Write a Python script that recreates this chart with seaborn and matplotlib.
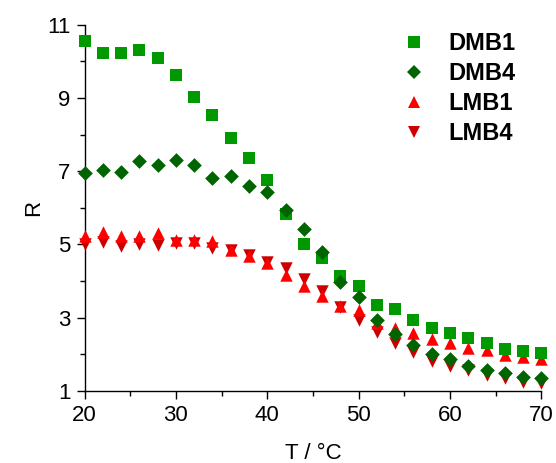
import matplotlib
matplotlib.use("Agg")
import matplotlib.pyplot as plt
from matplotlib.lines import Line2D
from matplotlib.ticker import MultipleLocator
import seaborn as sns
import pandas as pd

T = [20, 22, 24, 26, 28, 30, 32, 34, 36, 38, 40, 42, 44, 46, 48, 50,
     52, 54, 56, 58, 60, 62, 64, 66, 68, 70]
DMB1 = [10.55, 10.23, 10.23, 10.31, 10.09, 9.64, 9.03, 8.54, 7.91, 7.35, 6.77, 5.84, 5.02,
        4.64, 4.13, 3.88, 3.36, 3.25, 2.93, 2.71, 2.57, 2.44, 2.30, 2.16, 2.08, 2.05]
DMB4 = [6.96, 7.03, 6.98, 7.28, 7.17, 7.31, 7.18, 6.81, 6.88, 6.60, 6.42, 5.94, 5.41,
        4.80, 3.98, 3.57, 2.94, 2.55, 2.26, 2.00, 1.88, 1.69, 1.56, 1.49, 1.39, 1.35]
LMB1 = [5.23, 5.35, 5.24, 5.24, 5.31, 5.13, 5.12, 5.09, 4.84, 4.68, 4.49, 4.18, 3.88,
        3.59, 3.33, 3.22, 2.85, 2.71, 2.58, 2.42, 2.31, 2.17, 2.11, 1.97, 1.92, 1.88]
LMB4 = [5.02, 5.06, 4.97, 5.00, 4.98, 5.05, 5.04, 4.91, 4.86, 4.70, 4.53, 4.36, 4.06,
        3.74, 3.30, 2.95, 2.61, 2.32, 2.07, 1.82, 1.68, 1.56, 1.43, 1.36, 1.25, 1.23]

series_names = ["DMB1", "DMB4", "LMB1", "LMB4"]
draw_order = ["LMB4", "LMB1", "DMB1", "DMB4"]
values = {"DMB1": DMB1, "DMB4": DMB4, "LMB1": LMB1, "LMB4": LMB4}
colors = {"DMB1": "#009900", "DMB4": "#006400", "LMB1": "#ff0000", "LMB4": "#cc0000"}
markers = {"DMB1": "s", "DMB4": "D", "LMB1": "^", "LMB4": "v"}
sizes = {"DMB1": 72, "DMB4": 56, "LMB1": 80, "LMB4": 80}

rows = []
for name in draw_order:
    for t, r in zip(T, values[name]):
        rows.append({"T": t, "R": r, "series": name})
df = pd.DataFrame(rows)

sns.set_style("ticks")
plt.rcParams["font.family"] = ["Liberation Sans", "DejaVu Sans"]
plt.rcParams["text.color"] = "black"
plt.rcParams["axes.labelcolor"] = "black"

fig = plt.figure(figsize=(5.56, 4.63), dpi=100)
ax = fig.add_axes([0.152, 0.1555, 0.8216, 0.7911])

for name in draw_order:
    sub = df[df["series"] == name]
    sns.scatterplot(data=sub, x="T", y="R", ax=ax, marker=markers[name],
                    color=colors[name], s=sizes[name], linewidth=0,
                    clip_on=False, legend=False, zorder=3)

ax.set_xlim(20, 70)
ax.set_ylim(1, 11)
ax.xaxis.set_major_locator(MultipleLocator(10))
ax.xaxis.set_minor_locator(MultipleLocator(5))
ax.yaxis.set_major_locator(MultipleLocator(2, offset=1))
ax.yaxis.set_minor_locator(MultipleLocator(1))
ax.tick_params(which="major", direction="out", length=6, width=1.0,
               labelsize=16, color="black", labelcolor="black", pad=4)
ax.tick_params(which="minor", direction="out", length=3.5, width=1.0, color="black")
for s in ["top", "right"]:
    ax.spines[s].set_visible(False)
for s in ["left", "bottom"]:
    ax.spines[s].set_linewidth(1.0)
    ax.spines[s].set_color("black")

ax.set_xlabel("T / °C", fontsize=16, labelpad=12, color="black")
ax.set_ylabel("R", fontsize=16, labelpad=2, color="black")

handles = [Line2D([], [], linestyle="none", marker=markers[n], color=colors[n],
                  markersize=(sizes[n] ** 0.5), markeredgewidth=0) for n in series_names]
leg = ax.legend(handles, series_names, loc="upper left",
                bbox_to_anchor=(0.655, 1.025), frameon=False,
                prop={"weight": "bold", "size": 17}, handletextpad=0.85,
                labelspacing=0.3, borderpad=0.2, handlelength=1.2,
                labelcolor="black")

fig.savefig("out.png", dpi=100)
